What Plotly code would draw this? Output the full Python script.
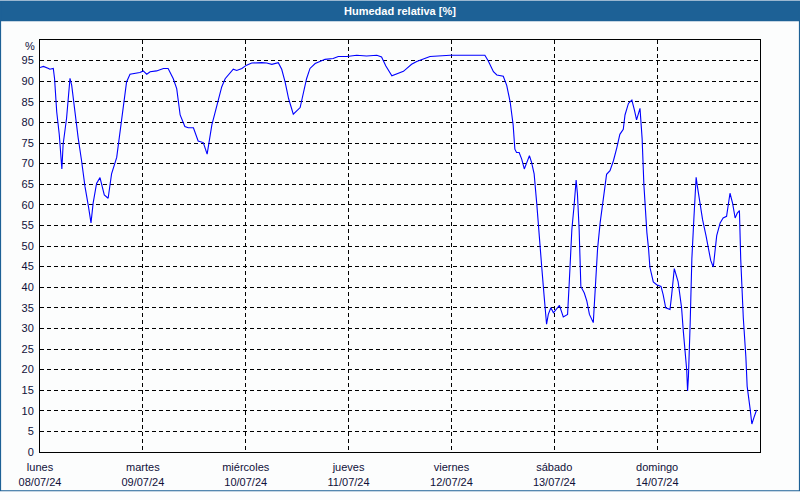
import pandas as pd
import plotly.graph_objects as go

# hours since 08/07/24 00:00
hours = [0, 0.8, 2.0, 2.3, 3.1, 3.4, 3.9, 4.5, 5.1, 5.4, 6.2, 7.0, 7.4, 8.2, 8.9, 9.7, 10.5, 11.3, 11.9,
         12.4, 13.2, 14.0, 14.6, 15.0, 15.9, 16.7, 17.9, 18.7, 19.4, 20.2, 21.0, 21.8, 22.6, 23.3,
         24.1, 24.9, 25.7, 27.2, 28.8, 29.9, 31.1, 31.9, 32.7, 33.8, 34.6, 35.8, 36.9, 37.7, 38.1,
         39.0, 40.1, 40.8, 41.6, 42.4, 43.2, 44.0, 45.1, 45.9, 47.1, 48.2, 49.4, 51.7, 52.9, 54.1,
         55.6, 56.4, 57.2, 58.0, 59.1, 60.7, 61.4, 62.2, 63.0, 64.2, 65.3, 66.5, 68.4, 69.6, 71.6,
         73.9, 76.2, 78.6, 79.7, 80.7, 82.1, 83.2, 84.0, 84.8, 85.6, 86.7, 87.9, 89.1, 91.0, 95.7,
         99.6, 103.8, 104.6, 105.8, 106.6, 108.1, 108.9, 109.7, 110.4, 110.8, 111.2, 111.8, 112.4,
         113.0, 113.6, 114.2, 114.7, 115.3, 115.9, 116.5, 117.1, 117.6, 118.2, 118.6, 119.2, 119.8,
         120.6, 121.2, 122.1, 123.1, 123.5, 124.1, 124.6, 125.1, 125.4, 125.8, 126.2, 127.0, 127.6,
         128.2, 129.1, 129.5, 130.1, 130.7, 131.5, 132.2, 133.0, 133.8, 134.6, 135.3, 136.1, 136.5,
         137.3, 138.1, 138.7, 139.2, 140.0, 140.5, 140.9, 141.3, 141.6, 142.0, 142.3, 143.1, 143.9,
         144.9, 145.4, 146.0, 147.0, 147.4, 148.0, 148.9, 149.3, 149.7, 150.1, 150.5, 150.9, 151.1,
         151.3, 151.7, 152.1, 152.6, 153.1, 153.4, 154.0, 154.6, 155.4, 155.9, 156.5, 157.1, 157.9,
         158.7, 159.4, 160.2, 160.6, 161.0, 161.6, 162.2, 162.7, 163.2, 163.5, 164.1, 164.7, 165.0,
         165.7, 166.1, 166.6, 167.2]
humidity = [93.3, 93.6, 93.1, 92.9, 93.1, 90.6, 82.6, 77.0, 68.7, 74.7, 81.0, 90.7, 89.0, 81.8, 76.3,
            70.7, 64.4, 59.6, 55.6, 60.4, 65.2, 66.6, 64.4, 62.4, 61.6, 67.5, 71.5, 77.9, 83.4, 89.8,
            91.7, 91.9, 92.0, 92.1, 92.5, 91.7, 92.3, 92.5, 93.1, 93.1, 90.6, 88.2, 81.8, 79.0, 78.7,
            78.7, 75.5, 75.1, 75.1, 72.3, 79.4, 82.2, 85.4, 88.6, 90.6, 91.5, 92.9, 92.6, 93.1, 93.9,
            94.4, 94.5, 94.4, 94.1, 94.5, 92.9, 89.8, 85.8, 82.0, 83.6, 86.6, 90.6, 93.1, 94.3, 94.8,
            95.3, 95.5, 96.0, 96.0, 96.3, 96.1, 96.3, 95.9, 93.7, 91.3, 91.7, 92.1, 92.4, 93.1, 94.1,
            94.8, 95.2, 96.0, 96.3, 96.3, 96.3, 94.9, 92.3, 91.5, 91.2, 89.0, 85.0, 79.4, 73.5, 72.7,
            72.7, 71.1, 68.7, 70.3, 71.9, 70.3, 67.5, 60.4, 53.3, 44.5, 38.2, 31.0, 33.4, 35.0, 33.8,
            35.0, 35.6, 32.8, 33.4, 41.3, 54.0, 59.6, 66.0, 62.7, 54.0, 40.2, 38.6, 36.6, 33.4, 31.4,
            39.8, 49.3, 55.6, 62.0, 67.4, 68.3, 70.7, 73.9, 77.1, 78.3, 81.8, 84.6, 85.4, 83.0, 80.6,
            83.4, 76.0, 65.0, 57.2, 53.3, 49.3, 44.9, 41.3, 40.6, 40.2, 38.2, 35.0, 34.6, 38.2, 44.5,
            41.3, 38.2, 35.0, 29.4, 24.7, 19.9, 14.8, 18.3, 31.0, 46.9, 57.2, 66.7, 64.4, 60.4, 56.4,
            52.5, 49.3, 46.5, 44.9, 52.5, 55.6, 56.8, 57.2, 59.6, 62.8, 60.4, 56.8, 58.0, 58.6, 46.9,
            32.6, 23.1, 16.0, 10.4, 6.8, 8.4, 10.2]

day_dates = ["2024-07-08", "2024-07-09", "2024-07-10", "2024-07-11", "2024-07-12", "2024-07-13", "2024-07-14"]
day_names = ["lunes", "martes", "miércoles", "jueves", "viernes", "sábado", "domingo"]
day_labels = ["08/07/24", "09/07/24", "10/07/24", "11/07/24", "12/07/24", "13/07/24", "14/07/24"]
y_ticks = list(range(0, 100, 5))

base = pd.Timestamp("2024-07-08")
times = base + pd.to_timedelta(hours, unit="h")

BLUE = "#1d6196"
FONT = "Liberation Sans"

fig = go.Figure()
fig.add_trace(go.Scatter(x=times, y=humidity, mode="lines",
                         line=dict(color="#0000ff", width=1.1), showlegend=False))

W, H = 720, 420
L, T = 40, 40
def px(x):
    return (x - L) / W
def py(y):
    return 1 - (y - T) / H

shapes = [
    dict(type="rect", xref="paper", yref="paper", x0=px(0), x1=px(800), y0=py(21), y1=py(0),
         fillcolor=BLUE, line=dict(width=0), layer="below"),
    dict(type="rect", xref="paper", yref="paper", x0=px(0.5), x1=px(799.5), y0=py(499.5), y1=py(0.5),
         line=dict(color=BLUE, width=1.2), fillcolor="rgba(0,0,0,0)"),
]

fig.update_layout(
    width=800, height=500,
    margin=dict(l=L, r=40, t=T, b=40),
    paper_bgcolor="#fcfdfd", plot_bgcolor="#fcfdfd",
    shapes=shapes,
    font=dict(family=FONT, size=11, color="#10103a"),
    annotations=[
        dict(text="<b>Humedad relativa [%]</b>", xref="paper", yref="paper", x=0.5, y=py(10.5),
             xanchor="center", yanchor="middle",
             showarrow=False, font=dict(color="white", size=11, family=FONT)),
        dict(text="%", xref="paper", yref="paper", x=px(37), y=py(46), xanchor="right",
             yanchor="middle", showarrow=False, font=dict(size=11, family=FONT, color="#10103a")),
    ],
)
fig.update_xaxes(
    type="date",
    range=["2024-07-08 00:00", "2024-07-15 00:00"],
    tickvals=day_dates,
    ticktext=[f"{n}<br>{d}" for n, d in zip(day_names, day_labels)],
    showgrid=True, gridcolor="black", gridwidth=1, griddash="4px,3px",
    showline=True, linecolor="black", linewidth=1, mirror=True,
    ticks="", ticklabelstandoff=5, zeroline=False,
)
fig.update_yaxes(
    range=[0, 100],
    tickvals=y_ticks,
    ticktext=[str(v) for v in y_ticks],
    showgrid=True, gridcolor="black", gridwidth=1, griddash="4px,3px",
    showline=True, linecolor="black", linewidth=1, mirror=True,
    ticks="", ticklabelstandoff=3, zeroline=False,
)

fig.write_html(
    "out.html",
    config={"displayModeBar": False},
    post_script=(
        "var s=document.documentElement.style;s.margin='0';s.padding='0';s.overflow='hidden';"
        "s.height='500px';var b=document.body.style;b.margin='0';b.padding='0';"
        "b.overflow='hidden';b.height='500px';"
    ),
)
